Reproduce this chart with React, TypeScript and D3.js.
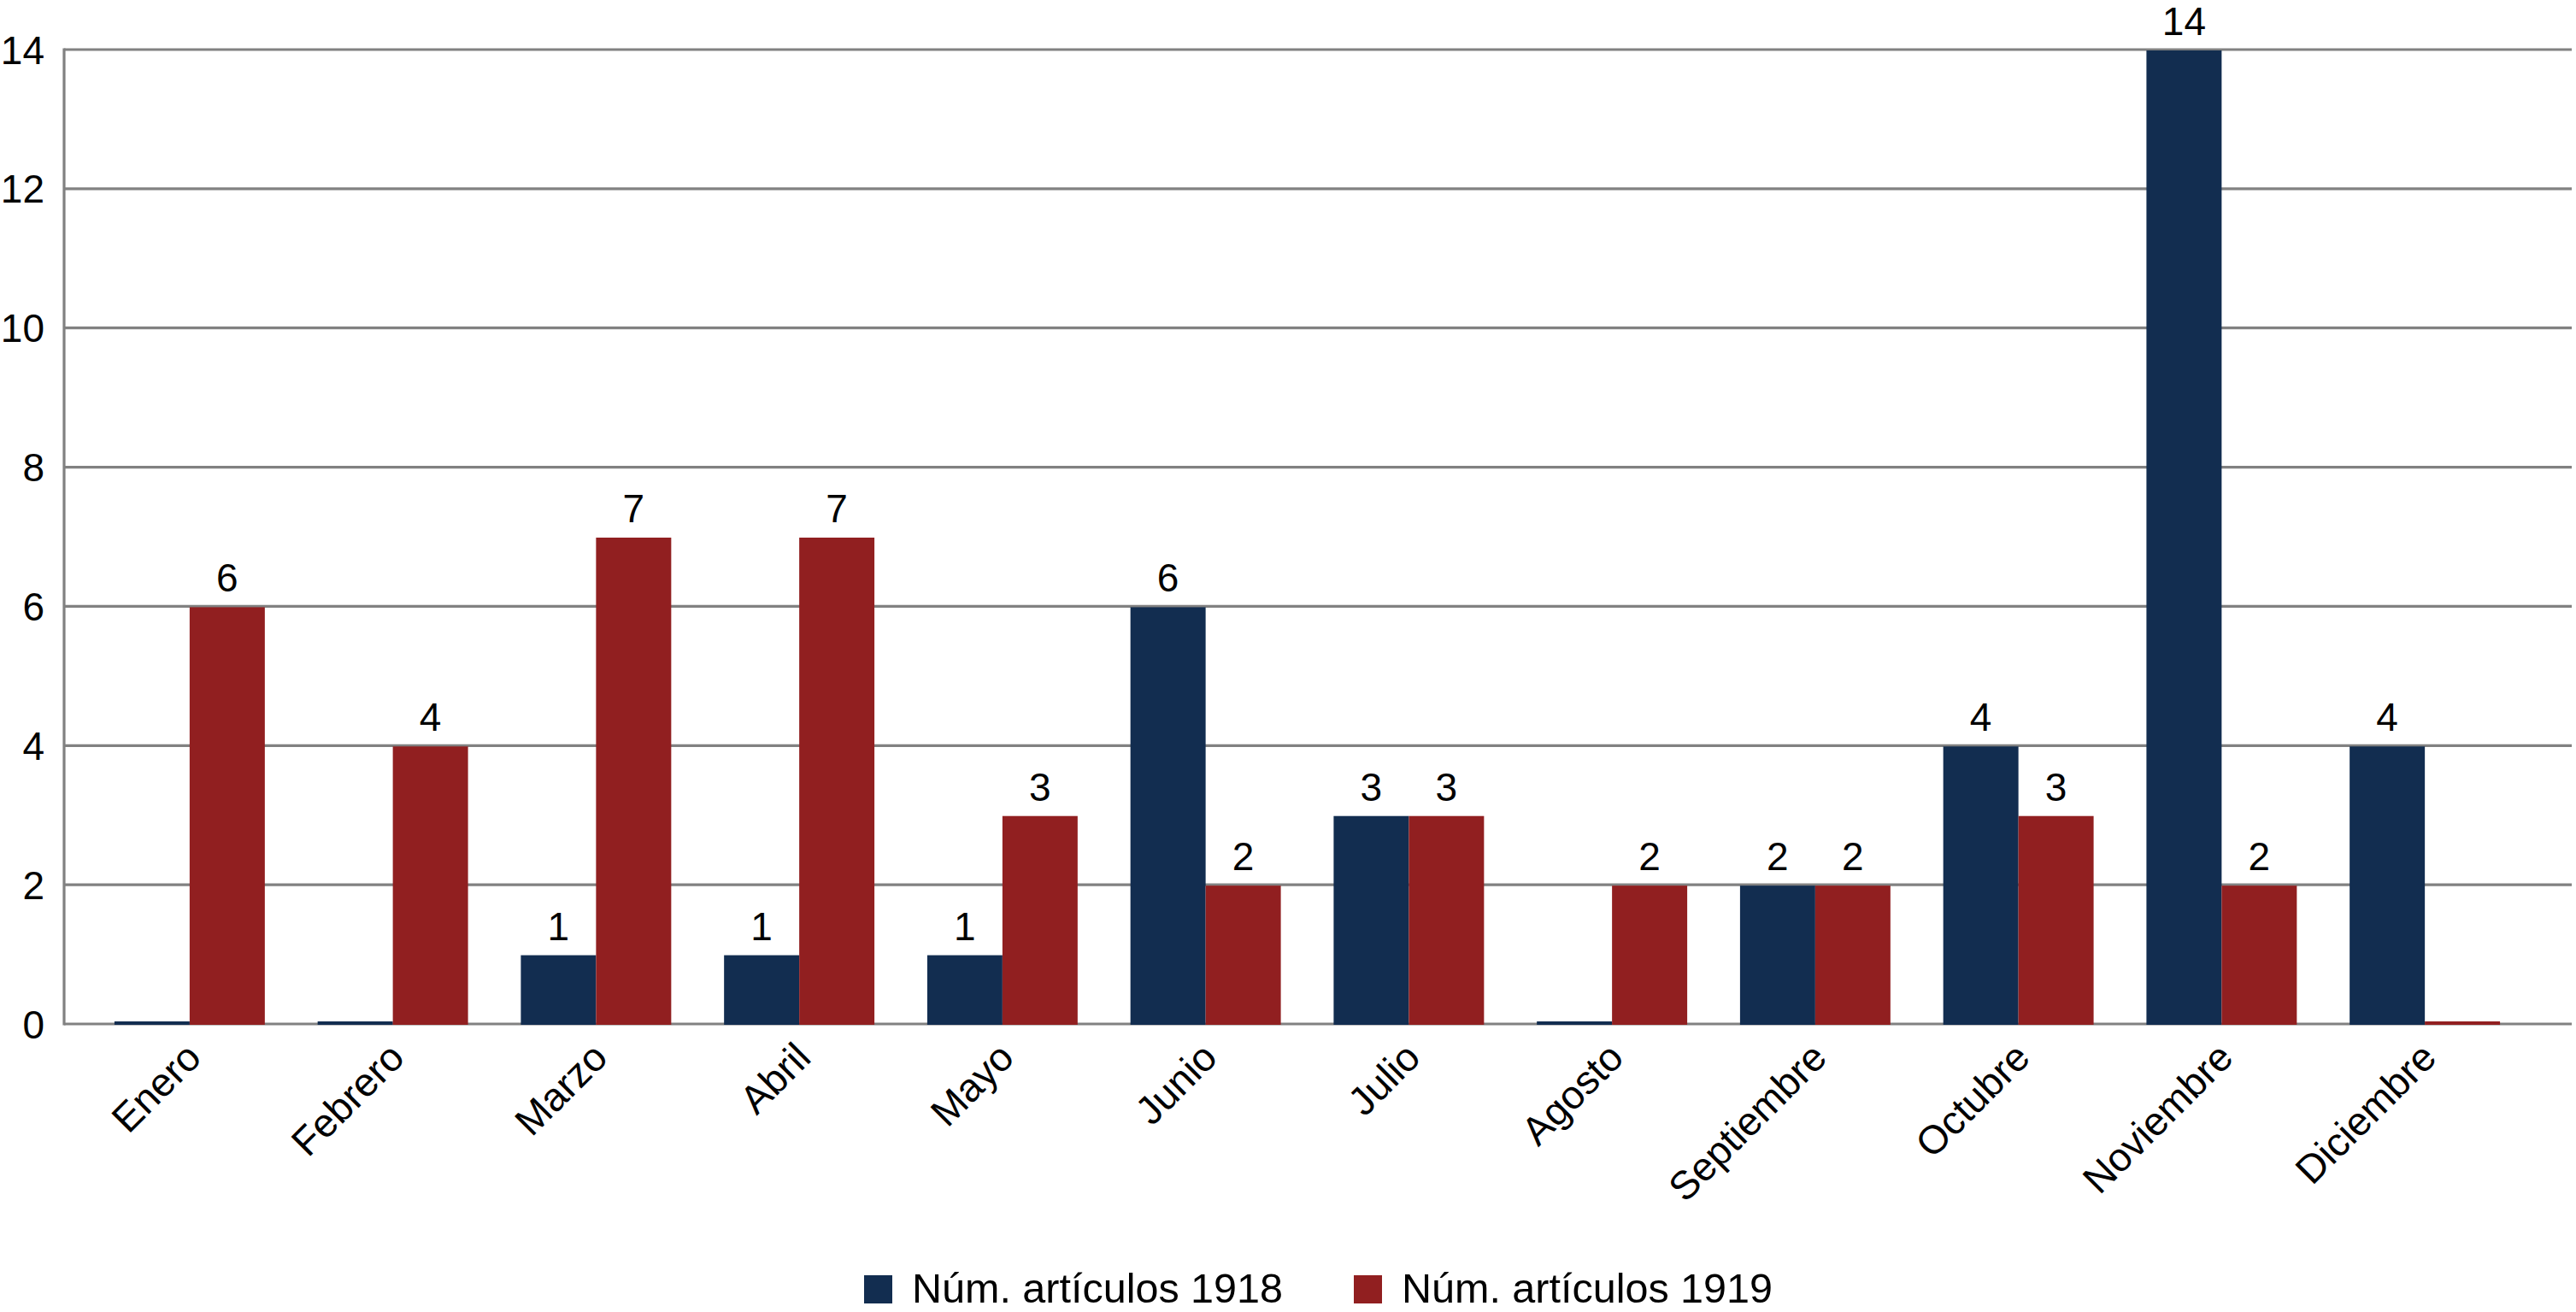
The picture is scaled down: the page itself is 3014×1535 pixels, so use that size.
import React from "react";
import * as d3 from "d3";

const months = ["Enero", "Febrero", "Marzo", "Abril", "Mayo", "Junio", "Julio", "Agosto", "Septiembre", "Octubre", "Noviembre", "Diciembre"];
const series = ["Núm. artículos 1918", "Núm. artículos 1919"];
const values1918 = [0, 0, 1, 1, 1, 6, 3, 0, 2, 4, 14, 4];
const values1919 = [6, 4, 7, 7, 3, 2, 3, 2, 2, 3, 2, 0];
const yTicks = [0, 2, 4, 6, 8, 10, 12, 14];
const colors = ["#122d50", "#911f20"];

const W = 3014;
const H = 1535;
const FONT = "'Liberation Sans', Arial, Helvetica, sans-serif";

export default function App() {
  const y = d3.scaleLinear().domain([0, 14]).range([1198, 58]);
  const x = d3.scaleBand<string>().domain(months).range([103, 2956]).paddingInner(0.26).paddingOuter(0.13);
  const xs = d3.scaleBand<string>().domain(series).range([0, x.bandwidth()]);
  const data = [values1918, values1919];
  const axisLeft = 75;
  const axisRight = 3009;
  const grid = "#818181";

  return (
    <svg width={W} height={H} style={{ position: "absolute", left: 0, top: 0, background: "#fff" }} fontFamily={FONT}>
      <rect x={0} y={0} width={W} height={H} fill="#fff" />
      {yTicks.map((t) => (
        <g key={t}>
          <line x1={axisLeft} x2={axisRight} y1={y(t)} y2={y(t)} stroke={grid} strokeWidth={3.2} />
          <text x={52} y={y(t)} dy="0.36em" textAnchor="end" fontSize={46} fill="#000">
            {t}
          </text>
        </g>
      ))}
      <line x1={axisLeft} x2={axisLeft} y1={y(14) - 1.6} y2={y(0) + 1.6} stroke={grid} strokeWidth={3.2} />
      {months.map((m, i) => (
        <g key={m} transform={`translate(${x(m)},0)`}>
          {series.map((s, k) => {
            const v = data[k][i];
            const top = y(v);
            const h = Math.max(y(0) - top, 4);
            return (
              <g key={s}>
                <rect x={xs(s)} y={y(0) + 1 - h} width={xs.bandwidth()} height={h} fill={colors[k]} />
                {v > 0 && (
                  <text x={(xs(s) as number) + xs.bandwidth() / 2} y={top - 17} textAnchor="middle" fontSize={46} fill="#000">
                    {v}
                  </text>
                )}
              </g>
            );
          })}
        </g>
      ))}
      {months.map((m) => {
        const cx = (x(m) as number) + x.bandwidth() / 2 + 16;
        const cy = y(0) + 42;
        return (
          <text key={m} transform={`translate(${cx},${cy}) rotate(-45)`} textAnchor="end" fontSize={46.5} fill="#000">
            {m}
          </text>
        );
      })}
      {series.map((s, k) => {
        const lx = [1011, 1584][k];
        return (
          <g key={s}>
            <rect x={lx} y={1492} width={33} height={33} fill={colors[k]} />
            <text x={lx + 56} y={1524} fontSize={48.5} fill="#000">
              {s}
            </text>
          </g>
        );
      })}
    </svg>
  );
}
